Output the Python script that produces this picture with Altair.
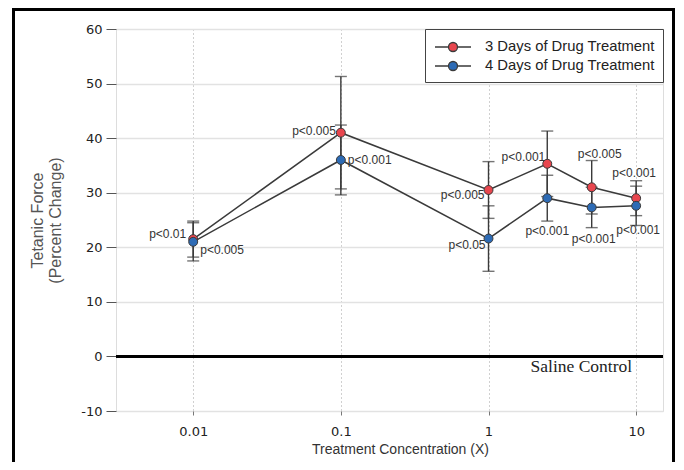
import altair as alt
import pandas as pd

# ---- data ----
conc = [0.01, 0.1, 1, 2.5, 5, 10]
series_names = ["3 Days of Drug Treatment", "4 Days of Drug Treatment"]
day3_mean = [21.5, 41.0, 30.5, 35.3, 31.0, 29.0]
day3_err = [3.3, 10.3, 5.2, 6.0, 4.9, 3.2]
day4_mean = [21.0, 36.0, 21.6, 29.0, 27.3, 27.6]
day4_err = [3.5, 6.4, 6.0, 4.2, 3.7, 3.6]
day3_p = ["p<0.01", "p<0.005", "p<0.005", "p<0.001", "p<0.005", "p<0.001"]
day4_p = ["p<0.005", "p<0.001", "p<0.05", "p<0.001", "p<0.001", "p<0.001"]
x_ticks = [0.01, 0.1, 1, 10]
y_ticks = [-10, 0, 10, 20, 30, 40, 50, 60]
control_value = 0
control_label = "Saline Control"

# ---- styles ----
colors = ["#e8464e", "#2d6bb5"]
dark = "#3a3a3a"
sans = "Liberation Sans, Arial, Helvetica, sans-serif"
wide = "DejaVu Sans, Verdana, sans-serif"
# label placement (dx, dy, align) per point
day3_lab = [(-7, -5, "right"), (-5, -2, "right"), (-4, 5, "right"), (-2, -7, "right"), (8, -33, "center"), (-2, -25, "center")]
day4_lab = [(7, 8, "left"), (7, 0, "left"), (-3, 6, "right"), (0, 33, "center"), (2, 32, "center"), (2, 24, "center")]

rows = []
for name, means, errs, ps in [(series_names[0], day3_mean, day3_err, day3_p),
                              (series_names[1], day4_mean, day4_err, day4_p)]:
    for c, m, e, p in zip(conc, means, errs, ps):
        rows.append(dict(series=name, conc=c, mean=m, lo=m - e, hi=m + e, p=p))
df = pd.DataFrame(rows)

xs = alt.Scale(type="log", domain=[0.003, 15.2], nice=False)
ys = alt.Scale(domain=[-10, 60], nice=False)

xaxis = alt.Axis(values=x_ticks, format="~g", title="Treatment Concentration (X)",
                 labelFont=wide, labelFontSize=13, labelColor="#222", labelPadding=10,
                 ticks=True, tickSize=4, tickColor="#777", domain=False,
                 grid=True, gridColor="#a0a0a0", gridDash=[1, 3], gridWidth=1,
                 titleFont="Liberation Sans Narrow, Arial Narrow, Liberation Sans, sans-serif",
                 titleFontSize=14, titleFontWeight="normal", titleColor="#333", titlePadding=4,
                 titleX=284, titleAlign="center")
yaxis = alt.Axis(values=y_ticks, title=["Tetanic Force", "(Percent Change)"],
                 labelExpr="'' + datum.value",
                 labelFont=wide, labelFontSize=13, labelColor="#222", labelPadding=4,
                 tickSize=10, tickColor="#555", domain=False,
                 grid=True, gridColor="#e2e2e2", gridWidth=1.5,
                 titleFont=sans, titleFontSize=16, titleFontWeight="normal", titleColor="#555",
                 titlePadding=17)

X = alt.X("conc:Q", scale=xs, axis=xaxis)


def Y(f):
    return alt.Y(f + ":Q", scale=ys, axis=yaxis)


base = alt.Chart(df)

frame = alt.Chart(pd.DataFrame({"a": [0]})).mark_rect(
    filled=False, stroke="black", strokeWidth=3
).encode(x=alt.value(-102.5), x2=alt.value(557.5), y=alt.value(-19.5), y2=alt.value(445))

ctrl_rule = alt.Chart(pd.DataFrame({"a": [0]})).mark_rule(color="black", strokeWidth=3).encode(
    y=alt.datum(control_value, scale=ys, axis=yaxis))
ctrl_text = alt.Chart(pd.DataFrame({"a": [0]})).mark_text(
    align="right", baseline="middle", dx=-4, dy=11, font="Liberation Serif, Times New Roman, serif",
    fontSize=17.5, color="#222").encode(
    x=alt.datum(10, scale=xs, axis=xaxis), y=alt.datum(control_value, scale=ys, axis=yaxis),
    text=alt.value(control_label))

lines = base.mark_line(color=dark, strokeWidth=1.5).encode(x=X, y=Y("mean"), detail="series:N")
err = base.mark_rule(color=dark, strokeWidth=1.4).encode(x=X, y=Y("lo"), y2="hi:Q")
cap_lo = base.mark_tick(orient="horizontal", color=dark, size=12, thickness=1.4).encode(x=X, y=Y("lo"))
cap_hi = base.mark_tick(orient="horizontal", color=dark, size=12, thickness=1.4).encode(x=X, y=Y("hi"))

sym = "M-2,0L-0.5,0M0.5,0L2,0M-0.5,0A0.5,0.5,0,1,1,0.5,0A0.5,0.5,0,1,1,-0.5,0Z"
points = base.mark_point(shape="circle", filled=True, size=80, stroke=dark, strokeWidth=1, opacity=1).encode(
    x=X, y=Y("mean"),
    fill=alt.Fill("series:N", scale=alt.Scale(domain=series_names, range=colors),
                  legend=alt.Legend(title=None, orient="top-right", offset=0, symbolType=sym,
                                    symbolSize=324, symbolStrokeColor=dark, symbolStrokeWidth=1.3,
                                    symbolOffset=10, labelOffset=22, labelFont=sans, labelFontSize=14.8,
                                    labelColor="#222", labelLimit=400, padding=8, rowPadding=1,
                                    strokeColor="#444", fillColor="white")))

label_layers = []
for name, offs in [(series_names[0], day3_lab), (series_names[1], day4_lab)]:
    sub = df[df["series"] == name].reset_index(drop=True)
    for i, (dx, dy, al) in enumerate(offs):
        row = sub.iloc[[i]]
        label_layers.append(
            alt.Chart(row).mark_text(dx=dx, dy=dy, align=al, baseline="middle", font=sans,
                                     fontSize=12, color="#333").encode(x=X, y=Y("mean"), text="p:N"))

chart = alt.layer(frame, ctrl_rule, ctrl_text, lines, err, cap_lo, cap_hi, points, *label_layers).properties(
    width=547, height=382,
    autosize=alt.AutoSizeParams(type="none"),
    padding={"left": 108, "top": 21, "right": 13, "bottom": 51},
).configure_view(stroke="#555", strokeWidth=1.5).configure(background="white")

chart.save("out.html", embed_options={"renderer": "svg", "actions": False})
